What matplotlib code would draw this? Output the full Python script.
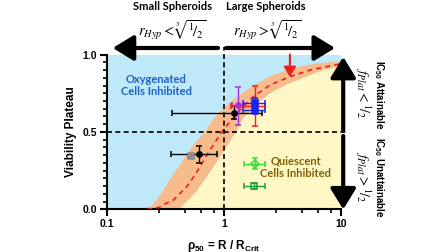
import matplotlib
matplotlib.use('Agg')
import matplotlib.pyplot as plt
import numpy as np

plt.rcParams['font.family'] = ['Liberation Sans', 'DejaVu Sans']
plt.rcParams['mathtext.fontset'] = 'custom'
plt.rcParams['mathtext.rm'] = 'Liberation Sans:bold'
plt.rcParams['mathtext.bf'] = 'Liberation Sans:bold'
plt.rcParams['mathtext.it'] = 'Liberation Sans:bold:italic'

# model curve (red dashed)
fit_x = [0.22, 0.28, 0.30, 0.37, 0.48, 0.55, 0.60, 0.73, 0.92, 1.0, 1.37, 1.78, 2.47, 3.66, 5.43, 10]
fit_y = [0.0, 0.014, 0.03, 0.061, 0.147, 0.21, 0.255, 0.363, 0.48, 0.52, 0.642, 0.728, 0.803, 0.857, 0.90, 0.94]

# orange uncertainty band edges
band_up_x = [0.15, 0.2, 0.24, 0.293, 0.357, 0.449, 0.55, 0.687, 0.8, 1.0, 1.3, 1.78, 2.5, 3.43, 5.0, 6.6, 10]
band_up_y = [0.0, 0.005, 0.02, 0.105, 0.21, 0.32, 0.42, 0.5, 0.58, 0.655, 0.73, 0.8, 0.86, 0.9, 0.93, 0.945, 0.955]
band_lo_x = [0.41, 0.565, 0.71, 0.87, 1.02, 1.26, 1.46, 1.84, 2.47, 3.5, 4.76, 7.0, 10]
band_lo_y = [0.0, 0.105, 0.21, 0.31, 0.39, 0.5, 0.588, 0.674, 0.75, 0.81, 0.85, 0.9, 0.925]

# measured points: centre, x range, y range
pt_x = [0.52, 0.61, 1.22, 1.31, 1.84, 1.84, 1.84, 1.84, 1.82]
pt_y = [0.345, 0.356, 0.622, 0.672, 0.665, 0.69, 0.642, 0.294, 0.152]
pt_xlo = [0.49, 0.352, 0.357, 1.16, 1.15, 1.46, 1.46, 1.48, 1.48]
pt_xhi = [0.55, 0.866, 2.10, 1.49, 2.24, 2.24, 2.24, 2.24, 2.24]
pt_ylo = [0.335, 0.30, 0.585, 0.545, 0.54, 0.66, 0.615, 0.26, 0.135]
pt_yhi = [0.355, 0.412, 0.665, 0.79, 0.80, 0.72, 0.67, 0.33, 0.17]

pt_col = ['#8c8c8c', 'black', 'black', '#a030e0', '#ee2020', '#1a22ee', '#1a22ee', '#33dd33', '#1e9e3a']
pt_mark = ['s', 'o', 'o', 'o', 'o', 's', 's', 'D', 's']
pt_fill = [True, True, True, True, True, True, True, False, False]

fig = plt.figure(figsize=(4.48, 2.52), dpi=100)
ax = fig.add_axes([0.2388, 0.1687, 0.5223, 0.615])
ax.set_xscale('log')
ax.set_xlim(0.1, 10)
ax.set_ylim(0, 1)
ax.set_facecolor('#bfe9f8')

# yellow region below the band
ax.fill(list(band_lo_x) + [10, band_lo_x[0]], list(band_lo_y) + [0, 0],
        color='#fff8c6', lw=0, zorder=1)
# orange band
ax.fill(list(band_up_x) + band_lo_x[::-1], list(band_up_y) + band_lo_y[::-1],
        color='#f7bb8c', lw=0, zorder=2)
ax.plot(fit_x, fit_y, ls=(0, (3, 2.5)), color='#e8201e', lw=1.2, zorder=3)

# dashed guides
ax.plot([0.1, 11.3], [0.5, 0.5], ls=(0, (3, 2)), color='black', lw=1.2, clip_on=False, zorder=4)
ax.plot([1, 1], [0, 1.05], ls=(0, (3, 2)), color='black', lw=1.2, clip_on=False, zorder=4)

for i in range(len(pt_x)):
    c = pt_col[i]
    ax.errorbar(pt_x[i], pt_y[i],
                xerr=[[pt_x[i] - pt_xlo[i]], [pt_xhi[i] - pt_x[i]]],
                yerr=[[pt_y[i] - pt_ylo[i]], [pt_yhi[i] - pt_y[i]]],
                fmt=pt_mark[i], color=c, ms=3.8 if pt_mark[i] != 'D' else 3.6,
                mfc=c if pt_fill[i] else 'none', mew=1.1,
                elinewidth=1.0, capsize=2, capthick=1.0, zorder=6)

# red arrow
ax.annotate('', xy=(3.66, 0.855), xytext=(3.66, 1.0),
            arrowprops=dict(arrowstyle='-|>,head_length=0.5,head_width=0.3',
                            color='#e8201e', lw=1.5, mutation_scale=12,
                            shrinkA=0, shrinkB=0), zorder=7)

# big black arrows outside the plot
big = dict(arrowstyle='-|>,head_length=0.9,head_width=0.55', color='black', lw=3,
           mutation_scale=14, shrinkA=0, shrinkB=0)
ax.annotate('', xy=(0.112, 1.042), xytext=(0.89, 1.042), arrowprops=big, annotation_clip=False)
ax.annotate('', xy=(8.9, 1.042), xytext=(1.04, 1.042), arrowprops=big, annotation_clip=False)
ax.annotate('', xy=(10.45, 0.985), xytext=(10.45, 0.51), arrowprops=big, annotation_clip=False)
ax.annotate('', xy=(10.45, 0.0), xytext=(10.45, 0.475), arrowprops=big, annotation_clip=False)

# axes styling
for s in ['top', 'right']:
    ax.spines[s].set_visible(False)
for s in ['left', 'bottom']:
    ax.spines[s].set_linewidth(1.5)
ax.set_xticks([0.1, 1, 10])
ax.set_xticklabels(['0.1', '1', '10'])
ax.set_xticks([0.28, 0.46, 0.64, 0.82, 2.8, 4.6, 6.4, 8.2], minor=True)
ax.set_yticks([0, 0.5, 1.0])
ax.set_yticklabels(['0.0', '0.5', '1.0'])
ax.set_yticks(np.arange(0, 1.01, 0.05), minor=True)
ax.tick_params(which='major', length=5, width=1.5, labelsize=7.5, pad=2)
ax.tick_params(which='minor', length=3, width=1.2)
for lb in ax.get_xticklabels() + ax.get_yticklabels():
    lb.set_fontweight('bold')
ax.set_xlabel(r'ρ$_{\mathbf{50}}$ = R / R$_{\mathbf{Crit}}$', fontsize=8.5, fontweight='bold', labelpad=6)
ax.set_ylabel('Viability Plateau', fontsize=8.5, fontweight='bold', labelpad=4)

# region labels
ax.text(0.263, 0.80, 'Oxygenated\nCells Inhibited', color='#1f5fc8', fontsize=8,
        family=['Lato', 'DejaVu Sans'], fontweight='bold', ha='center', va='center',
        linespacing=1.2, zorder=8)
ax.text(4.1, 0.274, 'Quiescent\nCells Inhibited', color='#7f6000', fontsize=8,
        family=['Lato', 'DejaVu Sans'], fontweight='bold', ha='center', va='center',
        linespacing=1.2, zorder=8)

W, H = 448.0, 252.0
def fx(p):
    return p / W
def fy(p):
    return 1 - p / H

fig.text(fx(173), fy(7), 'Small Spheroids', fontsize=8, fontweight='bold',
         family=['Lato', 'DejaVu Sans'], ha='center', va='center')
fig.text(fx(266), fy(7), 'Large Spheroids', fontsize=8, fontweight='bold',
         family=['Lato', 'DejaVu Sans'], ha='center', va='center')
fig.text(fx(172), fy(30), r'$r_{Hyp} < \sqrt[3]{^1\!/_2}$', fontsize=10.5,
         math_fontfamily='stix', ha='center', va='center')
fig.text(fx(267), fy(30), r'$r_{Hyp} > \sqrt[3]{^1\!/_2}$', fontsize=10.5,
         math_fontfamily='stix', ha='center', va='center')

fig.text(fx(379), fy(95), r'IC$_{\mathbf{50}}$ Attainable', fontsize=7, fontweight='bold',
         rotation=270, ha='center', va='center')
fig.text(fx(363), fy(92), r'$f_{Plat} < {}^1\!/_2$', fontsize=10, math_fontfamily='stix',
         rotation=270, ha='center', va='center')
fig.text(fx(379), fy(177), r'IC$_{\mathbf{50}}$ Unattainable', fontsize=7, fontweight='bold',
         rotation=270, ha='center', va='center')
fig.text(fx(363), fy(176), r'$f_{Plat} > {}^1\!/_2$', fontsize=10, math_fontfamily='stix',
         rotation=270, ha='center', va='center')

fig.savefig('out.png', dpi=100)
